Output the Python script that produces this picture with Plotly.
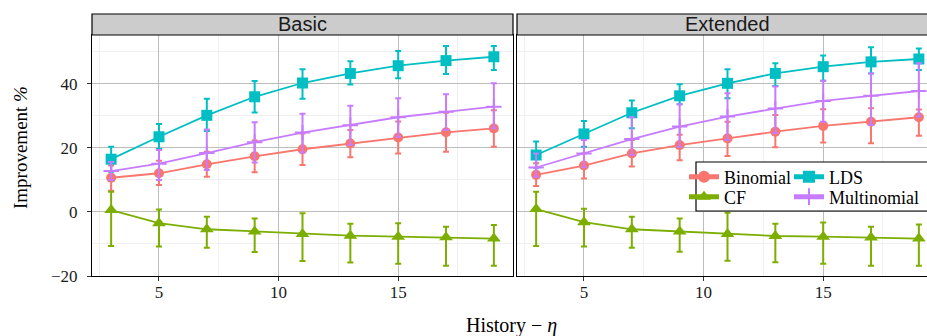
import plotly.graph_objects as go

W, H = 927, 336

# ---------------- data ----------------
history = [3, 5, 7, 9, 11, 13, 15, 17, 19]
panels = ["Basic", "Extended"]
series_names = ["Binomial", "CF", "LDS", "Multinomial"]

# Basic panel
binomial_basic = [10.7, 12.1, 14.9, 17.4, 19.6, 21.4, 23.3, 24.9, 26.1]
binomial_basic_hi = [14.5, 16.0, 18.8, 22.3, 24.5, 25.6, 28.3, 31.0, 31.8]
binomial_basic_lo = [6.6, 8.4, 11.0, 12.4, 14.7, 17.1, 18.3, 18.8, 20.4]

cf_basic = [0.6, -3.5, -5.4, -6.1, -6.9, -7.4, -7.7, -7.9, -8.3]
cf_basic_hi = [6.3, 0.8, -1.5, -2.0, -0.4, -3.7, -3.5, -4.6, -4.1]
cf_basic_lo = [-10.6, -10.8, -11.2, -12.5, -15.3, -15.8, -16.2, -16.8, -16.8]

lds_basic = [16.5, 23.5, 30.2, 36.0, 40.3, 43.3, 45.7, 47.3, 48.5]
lds_basic_hi = [20.4, 27.5, 35.4, 40.9, 44.6, 47.1, 50.3, 51.9, 51.9]
lds_basic_lo = [12.6, 19.7, 25.3, 31.1, 35.4, 39.8, 41.8, 43.1, 44.4]

multi_basic = [12.8, 15.1, 18.4, 21.8, 24.8, 27.1, 29.6, 31.3, 32.9]
multi_basic_hi = [15.6, 19.4, 25.8, 28.0, 30.7, 33.2, 35.5, 36.8, 40.2]
multi_basic_lo = [10.0, 10.0, 13.1, 15.5, 18.6, 20.9, 23.5, 25.6, 26.2]

# Extended panel
binomial_ext = [11.6, 14.5, 18.3, 20.9, 23.0, 25.1, 26.9, 28.2, 29.6]
binomial_ext_hi = [15.2, 18.3, 22.5, 24.1, 28.2, 30.3, 32.1, 32.4, 32.0]
binomial_ext_lo = [8.1, 10.5, 14.2, 16.2, 17.5, 20.2, 21.7, 21.5, 23.8]

cf_ext = [0.9, -3.2, -5.4, -6.1, -6.9, -7.5, -7.7, -8.0, -8.3]
cf_ext_hi = [6.3, 1.0, -1.5, -2.0, -0.2, -3.7, -3.3, -4.6, -3.9]
cf_ext_lo = [-10.6, -10.8, -11.2, -12.4, -15.2, -15.7, -16.2, -16.8, -16.8]

lds_ext = [17.8, 24.4, 31.0, 36.3, 40.2, 43.3, 45.4, 46.9, 47.8]
lds_ext_hi = [22.0, 28.4, 34.8, 39.9, 44.6, 46.5, 48.9, 51.5, 51.1]
lds_ext_lo = [13.8, 20.4, 26.2, 33.7, 35.5, 39.4, 41.0, 43.3, 44.4]

multi_ext = [13.9, 18.3, 22.8, 26.7, 29.8, 32.3, 34.7, 36.3, 37.8]
multi_ext_hi = [18.3, 22.5, 29.6, 33.7, 37.1, 39.2, 41.0, 43.3, 46.5]
multi_ext_lo = [11.0, 14.0, 17.8, 20.4, 22.5, 24.6, 28.2, 27.2, 29.8]

y_ticks = [-20, 0, 20, 40]
x_ticks = [5, 10, 15]

# ---------------- styles ----------------
colors = {"Binomial": "#F8766D", "CF": "#7CAE00", "LDS": "#00BFC4", "Multinomial": "#C77CFF"}
symbols = {"Binomial": "circle", "CF": "triangle-up", "LDS": "square", "Multinomial": "cross-thin"}
sizes = {"Binomial": 10, "CF": 12, "LDS": 11, "Multinomial": 11}
legend_of = {"Binomial": "legend", "LDS": "legend2", "CF": "legend3", "Multinomial": "legend4"}

data = {
    "Basic": {
        "Binomial": (binomial_basic, binomial_basic_hi, binomial_basic_lo),
        "CF": (cf_basic, cf_basic_hi, cf_basic_lo),
        "LDS": (lds_basic, lds_basic_hi, lds_basic_lo),
        "Multinomial": (multi_basic, multi_basic_hi, multi_basic_lo),
    },
    "Extended": {
        "Binomial": (binomial_ext, binomial_ext_hi, binomial_ext_lo),
        "CF": (cf_ext, cf_ext_hi, cf_ext_lo),
        "LDS": (lds_ext, lds_ext_hi, lds_ext_lo),
        "Multinomial": (multi_ext, multi_ext_hi, multi_ext_lo),
    },
}

SERIF = "Liberation Serif, Times New Roman, Times, serif"
SANS = "Liberation Sans, Arial, Helvetica, sans-serif"

fig = go.Figure()
for pi, panel in enumerate(panels):
    xa = "x" if pi == 0 else "x2"
    ya = "y" if pi == 0 else "y2"
    for name in series_names:
        mean, hi, lo = data[panel][name]
        c = colors[name]
        marker = dict(symbol=symbols[name], size=sizes[name], color=c)
        if name == "Multinomial":
            marker["line"] = dict(color=c, width=2)
        else:
            marker["line"] = dict(width=0)
        fig.add_trace(go.Scatter(
            x=history, y=mean, name=name, mode="lines+markers",
            xaxis=xa, yaxis=ya,
            line=dict(color=c, width=1.8),
            marker=marker,
            error_y=dict(type="data", symmetric=False,
                         array=[h - m for h, m in zip(hi, mean)],
                         arrayminus=[m - l for m, l in zip(mean, lo)],
                         color=c, thickness=2, width=3),
            showlegend=(pi == 0),
            legend=legend_of[name],
        ))

# ---------------- layout (pixel geometry) ----------------
def px_x(p):
    return p / W

def px_y(p):
    return 1 - p / H

left_x0, left_x1 = 92, 513
right_x0 = 517
top_y, bot_y = 35, 276
strip_top = 14
xrange_left = [2.2, 19.8]
scale = (left_x1 - left_x0) / (xrange_left[1] - xrange_left[0])
xrange_right = [2.2, 2.2 + (W - right_x0) / scale]
yrange = [-20, 55.3]

grid_major = "#BDBDBD"
grid_minor = "#F0F0F0"

common_x = dict(
    tickvals=x_ticks, ticktext=[str(v) for v in x_ticks],
    showgrid=True, gridcolor=grid_major, gridwidth=1,
    minor=dict(tickvals=[2.5, 7.5, 12.5, 17.5], showgrid=True, gridcolor=grid_minor, gridwidth=1, ticks=""),
    zeroline=False, showline=True, linecolor="black", linewidth=1.2, mirror=True,
    ticks="outside", ticklen=4, tickcolor="#333333", tickwidth=1,
    tickfont=dict(family=SERIF, size=17, color="#1a1a1a"),
    ticklabelstandoff=-4, automargin=False,
)
common_y = dict(
    range=yrange, tickvals=y_ticks,
    showgrid=True, gridcolor=grid_major, gridwidth=1,
    minor=dict(tickvals=[-10, 10, 30, 50], showgrid=True, gridcolor=grid_minor, gridwidth=1, ticks=""),
    zeroline=False, showline=True, linecolor="black", linewidth=1.2,
    domain=[px_y(bot_y), px_y(top_y)], automargin=False,
)

legend_common = dict(orientation="v", bgcolor="rgba(0,0,0,0)", borderwidth=0,
                     font=dict(family=SERIF, size=18, color="black"),
                     xanchor="left", yanchor="middle", itemsizing="constant")
row1, row2 = 177, 197
col1, col2 = 684, 789

fig.update_layout(
    width=W, height=H, autosize=False,
    margin=dict(l=0, r=0, t=0, b=0, pad=0, autoexpand=False),
    paper_bgcolor="white", plot_bgcolor="white",
    xaxis=dict(common_x, domain=[px_x(left_x0), px_x(left_x1)], range=xrange_left, anchor="y"),
    xaxis2=dict(common_x, domain=[px_x(right_x0), 1.0], range=xrange_right, anchor="y2"),
    yaxis=dict(common_y, anchor="x", mirror=True,
               ticks="outside", ticklen=4, tickcolor="#333333", tickwidth=1,
               tickfont=dict(family=SERIF, size=17, color="#1a1a1a"),
               ticklabelstandoff=6),
    yaxis2=dict(common_y, anchor="x2", mirror=False, showticklabels=False, ticks=""),
    legend=dict(legend_common, x=px_x(col1), y=px_y(row1)),
    legend2=dict(legend_common, x=px_x(col2), y=px_y(row1)),
    legend3=dict(legend_common, x=px_x(col1), y=px_y(row2)),
    legend4=dict(legend_common, x=px_x(col2), y=px_y(row2)),
)

shapes = []
# strips
for x0, x1 in [(left_x0, left_x1), (right_x0, W + 20)]:
    shapes.append(dict(type="rect", xref="paper", yref="paper",
                       x0=px_x(x0), x1=px_x(x1), y0=px_y(top_y), y1=px_y(strip_top),
                       fillcolor="#CCCCCC", line=dict(color="black", width=1.2), layer="above"))
# legend box
shapes.append(dict(type="rect", xref="paper", yref="paper",
                   x0=px_x(696), x1=px_x(W + 20), y0=px_y(211), y1=px_y(162),
                   fillcolor="white", line=dict(color="black", width=1.2), layer="above"))
fig.update_layout(shapes=shapes)

annotations = [
    dict(text="Basic", x=px_x((left_x0 + left_x1) / 2), y=px_y((top_y + strip_top) / 2),
         xref="paper", yref="paper", showarrow=False, xanchor="center", yanchor="middle",
         font=dict(family=SANS, size=20, color="#1a1a1a")),
    dict(text="Extended", x=px_x(right_x0 + (left_x1 - left_x0) / 2), y=px_y((top_y + strip_top) / 2),
         xref="paper", yref="paper", showarrow=False, xanchor="center", yanchor="middle",
         font=dict(family=SANS, size=20, color="#1a1a1a")),
    dict(text="History − <i>η</i>", x=px_x(511), y=px_y(325),
         xref="paper", yref="paper", showarrow=False, xanchor="center", yanchor="middle",
         font=dict(family=SERIF, size=20, color="black")),
    dict(text="Improvement <i>%</i>", x=px_x(20), y=px_y(148), textangle=-90,
         xref="paper", yref="paper", showarrow=False, xanchor="center", yanchor="middle",
         font=dict(family=SERIF, size=19, color="black")),
]
fig.update_layout(annotations=annotations)

fig.write_html("out.html")
